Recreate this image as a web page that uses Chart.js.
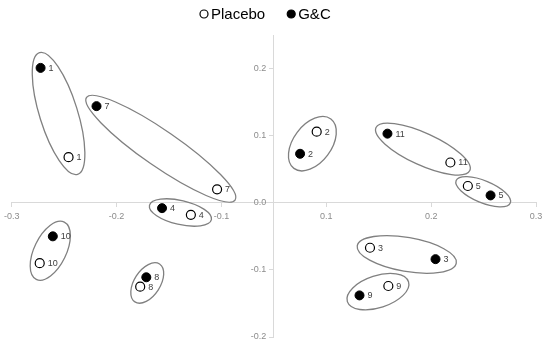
<!DOCTYPE html>
<html>
<head>
<meta charset="utf-8">
<script src="https://cdn.jsdelivr.net/npm/chart.js@4"></script>
<style>
  html, body { margin: 0; padding: 0; background: #fff; }
  #wrap { width: 550px; height: 346px; }
</style>
</head>
<body>
<div id="wrap"><canvas id="chart"></canvas></div>
<script>
// subject numbers (no. 6 is not in the figure)
const subjects = ['1', '2', '3', '4', '5', '7', '8', '9', '10', '11'];

// Placebo scores
const placeboX = [-0.235, 0.049, 0.110, -0.095, 0.222, -0.065, -0.153, 0.131, -0.268, 0.202];
const placeboY = [0.068, 0.106, -0.067, -0.018, 0.025, 0.020, -0.125, -0.124, -0.090, 0.060];

// G&C scores
const gcX = [-0.267, 0.030, 0.185, -0.128, 0.248, -0.203, -0.146, 0.098, -0.253, 0.130];
const gcY = [0.201, 0.073, -0.084, -0.008, 0.011, 0.144, -0.111, -0.138, -0.050, 0.103];

// axis ticks
const xTickValues = [-0.3, -0.18, -0.06, 0.06, 0.18, 0.3];
const xTickLabels = ['-0.3', '-0.2', '-0.1', '0.1', '0.2', '0.3'];
const yTickValues = [-0.2, -0.1, 0, 0.1, 0.2];

// half width of the ring drawn round each pair (px)
const ringWidth = [19, 19, 17, 12, 11, 18, 13, 16, 16, 16];

const axisGrey = '#d9d9d9';
const labelGrey = '#8c8c8c';

// rings round each Placebo / G&C pair
const ringPlugin = {
  id: 'rings',
  beforeDatasetsDraw(chart) {
    const ctx = chart.ctx;
    const xs = chart.scales.x, ys = chart.scales.y;
    ctx.save();
    ctx.strokeStyle = '#808080';
    ctx.lineWidth = 1.3;
    subjects.forEach((s, i) => {
      const x1 = xs.getPixelForValue(placeboX[i]), y1 = ys.getPixelForValue(placeboY[i]);
      const x2 = xs.getPixelForValue(gcX[i]), y2 = ys.getPixelForValue(gcY[i]);
      const d = Math.hypot(x2 - x1, y2 - y1);
      const ang = Math.atan2(y2 - y1, x2 - x1);
      ctx.beginPath();
      ctx.ellipse((x1 + x2) / 2 + 4, (y1 + y2) / 2 + 1, d / 2 + 17, ringWidth[i], ang, 0, Math.PI * 2);
      ctx.stroke();
    });
    ctx.restore();
  }
};

// subject number next to each point
const pointLabels = {
  id: 'pointLabels',
  afterDatasetsDraw(chart) {
    const ctx = chart.ctx;
    ctx.save();
    ctx.font = '9px "Liberation Sans", Arial, sans-serif';
    ctx.fillStyle = '#404040';
    ctx.textBaseline = 'middle';
    chart.data.datasets.forEach((ds, di) => {
      chart.getDatasetMeta(di).data.forEach((pt, i) => {
        ctx.fillText(subjects[i], pt.x + 8, pt.y + 0.5);
      });
    });
    ctx.restore();
  }
};

// legend on top: open / filled circle then name
const topLegend = {
  id: 'topLegend',
  afterDraw(chart) {
    const ctx = chart.ctx;
    ctx.save();
    ctx.font = '15px "Liberation Sans", Arial, sans-serif';
    ctx.textBaseline = 'middle';
    let x = 200;
    const y = 14;
    chart.data.datasets.forEach(ds => {
      ctx.beginPath();
      ctx.arc(x + 4, y, 4, 0, Math.PI * 2);
      ctx.fillStyle = ds.backgroundColor;
      ctx.fill();
      ctx.lineWidth = 1.2;
      ctx.strokeStyle = '#000';
      ctx.stroke();
      ctx.fillStyle = '#000';
      ctx.fillText(ds.label, x + 11, y + 1);
      x += 11 + ctx.measureText(ds.label).width + 22;
    });
    ctx.restore();
  }
};

const tickFont = { family: '"Liberation Sans", Arial, sans-serif', size: 9 };

new Chart(document.getElementById('chart'), {
  type: 'scatter',
  data: {
    datasets: [
      {
        label: 'Placebo',
        data: subjects.map((s, i) => ({ x: placeboX[i], y: placeboY[i] })),
        backgroundColor: '#ffffff',
        borderColor: '#000000',
        borderWidth: 1.2,
        pointRadius: 4.5
      },
      {
        label: 'G&C',
        data: subjects.map((s, i) => ({ x: gcX[i], y: gcY[i] })),
        backgroundColor: '#000000',
        borderColor: '#000000',
        borderWidth: 1,
        pointRadius: 4.5
      }
    ]
  },
  options: {
    responsive: true,
    maintainAspectRatio: false,
    animation: false,
    devicePixelRatio: 1,
    layout: { padding: { left: 11, right: 14, top: 35, bottom: 9 } },
    plugins: {
      legend: { display: false },
      tooltip: { enabled: false }
    },
    scales: {
      x: {
        type: 'linear',
        min: -0.3,
        max: 0.3,
        position: { y: 0 },
        afterBuildTicks: axis => { axis.ticks = xTickValues.map(v => ({ value: v })); },
        grid: { display: true, drawOnChartArea: false, tickLength: 4, color: axisGrey },
        border: { color: axisGrey, width: 1 },
        ticks: {
          autoSkip: false,
          maxRotation: 0,
          padding: 4,
          color: labelGrey,
          font: tickFont,
          callback: (v, i) => xTickLabels[i]
        }
      },
      y: {
        type: 'linear',
        min: -0.2,
        max: 0.25,
        position: { x: 0 },
        afterBuildTicks: axis => { axis.ticks = yTickValues.map(v => ({ value: v })); },
        grid: { display: true, drawOnChartArea: false, tickLength: 4, color: axisGrey },
        border: { color: axisGrey, width: 1 },
        ticks: {
          autoSkip: false,
          color: labelGrey,
          font: tickFont,
          // centred axis puts labels flush on the line, so pad with spaces
          callback: v => v.toFixed(1) + '   '
        }
      }
    }
  },
  plugins: [ringPlugin, pointLabels, topLegend]
});
</script>
</body>
</html>
